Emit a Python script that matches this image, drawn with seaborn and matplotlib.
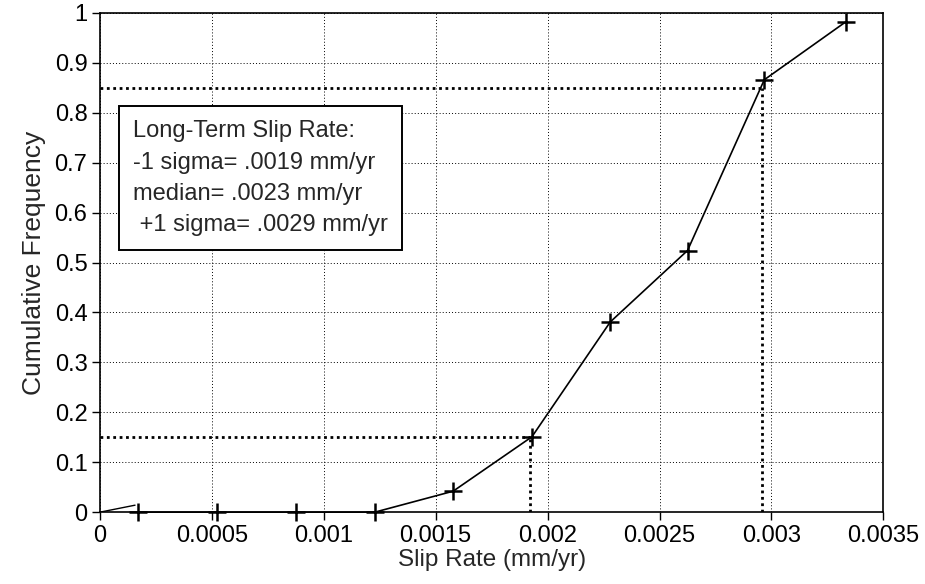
import matplotlib
matplotlib.use("Agg")
import math
import matplotlib.pyplot as plt
import seaborn as sns
import pandas as pd

# Cumulative frequency of the simulated long-term slip rate (mm/yr)
slip_rate = [0.000172, 0.000524, 0.000876, 0.001228, 0.001578,
             0.001930, 0.002280, 0.002625, 0.002968, 0.003332]
cum_freq = [0.0, 0.0, 0.0, 0.0, 0.042, 0.151, 0.381, 0.524, 0.866, 0.982]

# short stub drawn from the origin
stub_x = [0.0, 0.000157]
stub_y = [0.0, 0.014]

# +/- 1 sigma read-offs (cumulative 0.15 and 0.85)
sigma_levels = [0.15, 0.85]
sigma_rates = [0.00192, 0.00296]
median_rate = 0.0023

x_ticks = [0, 0.0005, 0.001, 0.0015, 0.002, 0.0025, 0.003, 0.0035]
x_tick_labels = ["0", "0.0005", "0.001", "0.0015", "0.002", "0.0025", "0.003", "0.0035"]
y_ticks = [0, 0.1, 0.2, 0.3, 0.4, 0.5, 0.6, 0.7, 0.8, 0.9, 1.0]
y_tick_labels = ["0", "0.1", "0.2", "0.3", "0.4", "0.5", "0.6", "0.7", "0.8", "0.9", "1"]

sns.set_style("ticks")
plt.rcParams["font.family"] = ["Liberation Sans", "DejaVu Sans"]

fig = plt.figure(figsize=(9.25, 5.84), dpi=100)
ax = fig.add_axes([0.108, 0.123, 0.847, 0.855])

df = pd.DataFrame({"rate": slip_rate, "freq": cum_freq})
sns.lineplot(data=df, x="rate", y="freq", sort=False, color="black", lw=1.2,
             marker="+", markersize=13, markeredgewidth=1.8,
             markeredgecolor="black", ax=ax, zorder=4, clip_on=False)
sns.lineplot(x=stub_x, y=stub_y, color="black", lw=1.0, ax=ax, zorder=4)

# heavy dotted read-off lines for the sigma bounds
for lvl, rate in zip(sigma_levels, sigma_rates):
    ax.plot([0, rate], [lvl, lvl], color="black", lw=2.0,
            linestyle=(0, (1, 1.3)), zorder=3)
    ax.plot([rate, rate], [0, lvl], color="black", lw=2.0,
            linestyle=(0, (1, 1.3)), zorder=3)

ax.set_xlim(0, 0.0035)
ax.set_ylim(0, 1)
ax.set_xticks(x_ticks)
ax.set_xticklabels(x_tick_labels)
ax.set_yticks(y_ticks)
ax.set_yticklabels(y_tick_labels)
ax.tick_params(axis="both", labelsize=17, direction="out", length=6,
               width=1.0, colors="black", pad=3)
ax.grid(True, color="black", lw=0.7, linestyle=(0, (1, 2.2)))
ax.set_axisbelow(True)
for sp in ax.spines.values():
    sp.set_visible(True)
    sp.set_color("black")
    sp.set_linewidth(1.2)

ax.set_xlabel("Slip Rate (mm/yr)", fontsize=17.5, labelpad=2)
ax.set_ylabel("Cumulative Frequency", fontsize=19, labelpad=6)


def trunc4(v):
    return ("%.4f" % (math.floor(v * 1e4 + 1e-9) / 1e4)).lstrip("0")


box_text = "\n".join([
    "Long-Term Slip Rate:",
    "-1 sigma= " + trunc4(sigma_rates[0]) + " mm/yr",
    "median= " + trunc4(median_rate) + " mm/yr",
    " +1 sigma= " + trunc4(sigma_rates[1]) + " mm/yr",
])
ax.text(0.000149, 0.785, box_text, fontsize=17, va="top", ha="left",
        linespacing=1.55, zorder=5,
        bbox=dict(boxstyle="square,pad=0.6", fc="white", ec="black", lw=1.4))

fig.savefig("out.png", dpi=100)
